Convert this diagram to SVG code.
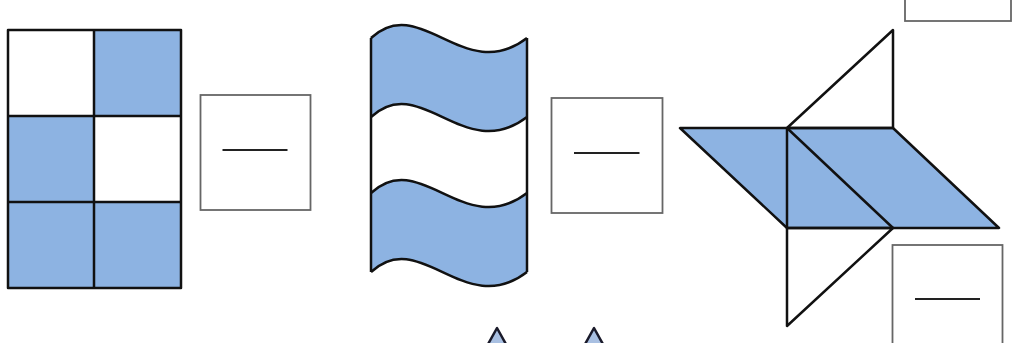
<svg xmlns="http://www.w3.org/2000/svg" width="1013" height="343" viewBox="0 0 1013 343">
<style>
.b{fill:#8db3e2}
.w{fill:#ffffff}
.k{stroke:#111;stroke-width:2.5;fill:none;stroke-linejoin:round}
.box{fill:#fff;stroke:#666;stroke-width:1.8}
.dash{stroke:#222;stroke-width:2.2}
.arr{fill:#a9c0e2;stroke:#1a1a2a;stroke-width:2.5;stroke-linejoin:round}
</style>
<rect width="1013" height="343" fill="#fff"/>
<g id="grid">
<rect x="94" y="30" width="87" height="86" class="b"/>
<rect x="8" y="116" width="86" height="86" class="b"/>
<rect x="8" y="202" width="173" height="86" class="b"/>
<rect x="8" y="30" width="173" height="258" class="k"/>
<line x1="94" y1="30" x2="94" y2="288" class="k"/>
<line x1="8" y1="116" x2="181" y2="116" class="k"/>
<line x1="8" y1="202" x2="181" y2="202" class="k"/>
</g>
<g id="box1">
<rect x="200.5" y="95" width="110" height="115" class="box"/>
<line x1="222.5" y1="150" x2="287.5" y2="150" class="dash"/>
</g>
<g id="flag">
<path d="M371,38 C420,-8 465,86 527,38 L527,272 C465,320 420,226 371,272 Z" class="b"/>
<path d="M371,117 C420,71 465,165 527,117 L527,193 C465,241 420,147 371,193 Z" class="w"/>
<path d="M371,38 C420,-8 465,86 527,38" class="k"/>
<path d="M371,117 C420,71 465,165 527,117" class="k"/>
<path d="M371,193 C420,147 465,241 527,193" class="k"/>
<path d="M371,272 C420,226 465,320 527,272" class="k"/>
<line x1="371" y1="38" x2="371" y2="272" class="k"/>
<line x1="527" y1="38" x2="527" y2="272" class="k"/>
</g>
<g id="box2">
<rect x="551.5" y="98" width="111" height="115" class="box"/>
<line x1="574" y1="153" x2="639.5" y2="153" class="dash"/>
</g>
<g id="net">
<polygon points="680,128 893,128 999,228 787,228" class="b"/>
<polygon points="680,128 893,128 999,228 787,228" class="k"/>
<polygon points="787,128 893,30 893,128" class="k"/>
<polygon points="787,228 893,228 787,326" class="k"/>
<line x1="787" y1="128" x2="787" y2="228" class="k"/>
<line x1="787" y1="128" x2="893" y2="228" class="k"/>
</g>
<g id="box3">
<rect x="905" y="-100" width="106" height="121" class="box"/>
</g>
<g id="box4">
<rect x="892.5" y="245" width="110" height="120" class="box"/>
<line x1="915" y1="299" x2="980" y2="299" class="dash"/>
</g>
<g id="arrow1">
<polygon points="497,328 487,346 507,346" class="arr"/>
</g>
<g id="arrow2">
<polygon points="594,328 584,346 604,346" class="arr"/>
</g>
</svg>
